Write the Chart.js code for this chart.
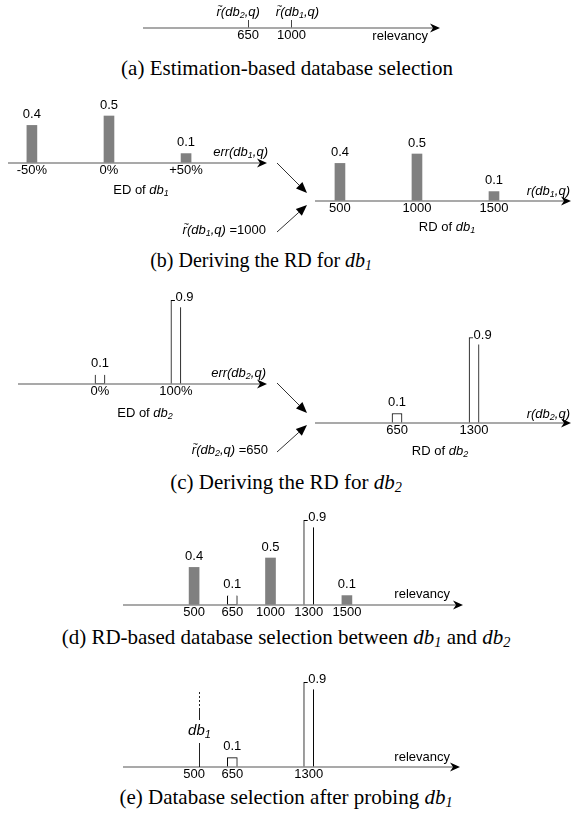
<!DOCTYPE html>
<html>
<head>
<meta charset="utf-8">
<title>RD-based database selection</title>
<script src="https://cdn.jsdelivr.net/npm/chart.js@4.4.1/dist/chart.umd.min.js"></script>
<style>
  body { margin: 0; background: #fff; }
  #page { position: relative; width: 573px; height: 818px; overflow: hidden; background: #fff; }
  #page canvas { position: absolute; left: 0; }
  .cap { position: absolute; width: 600px; text-align: center; white-space: nowrap;
         font-family: "Liberation Serif", "Times New Roman", serif; font-size: 21px; line-height: 24px; }
  .cap sub { font-size: 0.68em; line-height: 0; vertical-align: -0.2em; }
</style>
</head>
<body>
<div id="page">
  <div class="cap" style="left:-13px; top:56px">(a) Estimation-based database selection</div>
  <div class="cap" style="left:-39px; top:248px; font-size:20px">(b) Deriving the RD for <i>db<sub>1</sub></i></div>
  <div class="cap" style="left:-14px; top:470px">(c) Deriving the RD for <i>db<sub>2</sub></i></div>
  <div class="cap" style="left:-14px; top:625px">(d) RD-based database selection between <i>db<sub>1</sub></i> and <i>db<sub>2</sub></i></div>
  <div class="cap" style="left:-14px; top:785px">(e) Database selection after probing <i>db<sub>1</sub></i></div>
</div>
<script>
// (a) estimated relevancy of each database
const estDbs = ['2', '1'];
const estValues = [650, 1000];

// (b) db1: error distribution and the relevancy distribution derived from it
const errTicksDb1 = [-50, 0, 50];
const edProbDb1 = [0.4, 0.5, 0.1];
const rdTicksDb1 = [500, 1000, 1500];
const rdProbDb1 = [0.4, 0.5, 0.1];

// (c) db2
const errTicksDb2 = [0, 100];
const edProbDb2 = [0.1, 0.9];
const rdTicksDb2 = [650, 1300];
const rdProbDb2 = [0.1, 0.9];

// (d), (e) both RDs on one relevancy axis
const relevancyCats = ['500', '650', '1000', '1300', '1500'];
const selDb1 = [0.4, null, 0.5, null, 0.1];
const selDb2 = [null, 0.1, null, 0.9, null];
const probedDb1 = '500';

const W = 573;
const FONT = '"Liberation Sans", Arial, sans-serif';
const GRAY = '#808080';
const page = document.getElementById('page');

Chart.defaults.font.family = FONT;
Chart.defaults.font.size = 13;
Chart.defaults.color = '#000';

// rich text pieces: regular, italic, italic subscript, italic with tilde
const R = t => ({ t });
const I = t => ({ t, i: true });
const S = t => ({ t, i: true, sub: true });
const T = t => ({ t, i: true, tilde: true });

function drawRich(ctx, parts, x, y, align, size) {
  size = size || 13;
  const font = p => (p.i ? 'italic ' : '') + (p.sub ? Math.round(size * 0.72) : size) + 'px ' + FONT;
  let total = 0;
  parts.forEach(p => { ctx.font = font(p); p.w = ctx.measureText(p.t).width; total += p.w; });
  let cx = align === 'right' ? x - total : align === 'center' ? x - total / 2 : x;
  ctx.fillStyle = '#000';
  ctx.textBaseline = 'middle';
  parts.forEach(p => {
    ctx.font = font(p);
    ctx.textAlign = 'left';
    ctx.fillText(p.t, cx, p.sub ? y + size * 0.28 : y);
    if (p.tilde) {
      ctx.font = Math.round(size * 0.7) + 'px ' + FONT;
      ctx.textAlign = 'center';
      ctx.fillText('~', cx + p.w * 0.85, y - size * 0.42);
    }
    cx += p.w;
  });
}

function arrow(ctx, x1, y1, x2, y2) {
  const a = Math.atan2(y2 - y1, x2 - x1), L = 11, H = 4.5;
  const bx = x2 - L * Math.cos(a), by = y2 - L * Math.sin(a);
  ctx.strokeStyle = '#333';
  ctx.lineWidth = 1;
  ctx.beginPath(); ctx.moveTo(x1, y1); ctx.lineTo(bx, by); ctx.stroke();
  ctx.fillStyle = '#000';
  ctx.beginPath();
  ctx.moveTo(x2, y2);
  ctx.lineTo(bx + H * Math.sin(a), by - H * Math.cos(a));
  ctx.lineTo(bx - H * Math.sin(a), by + H * Math.cos(a));
  ctx.closePath(); ctx.fill();
}

const valueOf = raw => (raw !== null && typeof raw === 'object') ? raw.y : raw;

// axis arrow, bar labels, axis captions, probe line, connecting arrows
const diagramPlugin = {
  id: 'diagram',
  afterDatasetsDraw(chart, args, o) {
    const ctx = chart.ctx;
    const axisY = chart.chartArea.bottom;
    const xs = chart.scales.x;
    ctx.save();

    chart.data.datasets.forEach((ds, i) => {
      chart.getDatasetMeta(i).data.forEach((bar, j) => {
        const v = valueOf(ds.data[j]);
        if (v == null) return;
        const p = bar.getProps(['x', 'y', 'width'], true);
        const txt = v.toFixed(1);
        ctx.font = '13px ' + FONT;
        if (ds.labelBeside && v > 0.5) {
          // label sits on the top right corner of a tall open bar
          const left = p.x - p.width / 2;
          const tw = ctx.measureText(txt).width;
          ctx.fillStyle = '#fff';
          ctx.fillRect(left + 4, p.y - 11, tw + 2, 18);
          ctx.fillStyle = '#000';
          ctx.textAlign = 'left';
          ctx.textBaseline = 'alphabetic';
          ctx.fillText(txt, left + 4.5, p.y + 1);
        } else {
          ctx.fillStyle = '#000';
          ctx.textAlign = 'center';
          ctx.textBaseline = 'middle';
          ctx.fillText(txt, p.x, p.y - 11);
        }
      });
    });

    // axis line with arrow head
    const to = o.axisTo;
    ctx.strokeStyle = '#8c8c8c';
    ctx.lineWidth = 1.6;
    ctx.beginPath(); ctx.moveTo(o.axisFrom, axisY); ctx.lineTo(to - 5, axisY); ctx.stroke();
    ctx.fillStyle = '#000';
    ctx.beginPath();
    ctx.moveTo(to, axisY); ctx.lineTo(to - 10, axisY - 4.5);
    ctx.lineTo(to - 7, axisY); ctx.lineTo(to - 10, axisY + 4.5);
    ctx.closePath(); ctx.fill();

    if (o.probe) {
      const px = Math.round(xs.getPixelForValue(chart.data.labels.indexOf(o.probe))) + 5.5;
      ctx.strokeStyle = '#222';
      ctx.lineWidth = 1;
      ctx.beginPath();
      ctx.moveTo(px, axisY); ctx.lineTo(px, axisY - 24);
      ctx.moveTo(px, axisY - 47); ctx.lineTo(px, axisY - 57);
      ctx.stroke();
      ctx.setLineDash([2, 2]);
      ctx.beginPath(); ctx.moveTo(px, axisY - 57); ctx.lineTo(px, axisY - 77); ctx.stroke();
      ctx.setLineDash([]);
      drawRich(ctx, [I('db'), S('1')], px, axisY - 36, 'center', 15);
    }

    (o.texts || []).forEach(t => {
      const x = (t.value !== undefined ? xs.getPixelForValue(t.value) : t.x) + (t.dx || 0);
      drawRich(ctx, t.parts, x, axisY + t.dy, t.align, t.size);
    });
    (o.arrows || []).forEach(a => arrow(ctx, a[0], axisY + a[1], a[2], axisY + a[3]));
    ctx.restore();
  }
};

function makePanel(p) {
  const padTop = p.padTop || 16;
  const canvas = document.createElement('canvas');
  canvas.width = W;
  canvas.height = padTop + p.plotH + 20 + p.padBottom;
  canvas.style.top = (p.axisY - p.plotH - padTop) + 'px';
  page.appendChild(canvas);
  const x = Object.assign({
    offset: false,
    grid: { display: false, drawTicks: false, offset: false },
    border: { display: false },
    ticks: {
      padding: 0, autoSkip: false, maxRotation: 0, color: '#000',
      callback: function (v, i) { return p.fmt ? p.fmt.call(this, v, i) : this.getLabelForValue(v); }
    },
    afterFit: s => { s.height = 20; }
  }, p.x);
  if (p.ticksAt) x.afterBuildTicks = s => { s.ticks = p.ticksAt.map(v => ({ value: v })); };
  return new Chart(canvas.getContext('2d'), {
    type: 'bar',
    data: { labels: p.labels, datasets: p.datasets },
    options: {
      responsive: false,
      animation: false,
      events: [],
      layout: { padding: { top: padTop, bottom: p.padBottom, left: p.left, right: W - p.right } },
      plugins: { legend: { display: false }, tooltip: { enabled: false }, diagram: p.diagram },
      scales: { x: x, y: { display: false, min: 0, max: 1 } }
    },
    plugins: [diagramPlugin]
  });
}

const points = (xs, ys) => xs ? xs.map((x, i) => ({ x: x, y: ys[i] })) : ys;

function solidBars(xs, ys) {
  return { data: points(xs, ys), backgroundColor: GRAY, borderWidth: 0,
           barThickness: 10, maxBarThickness: 10, grouped: false };
}
function openBars(xs, ys, openTop) {
  return { data: points(xs, ys), backgroundColor: '#fff', borderColor: '#000', borderWidth: 1,
           borderSkipped: c => (openTop && valueOf(c.raw) < 0.5) ? 'top' : 'bottom',
           barThickness: 10, maxBarThickness: 10, grouped: false, labelBeside: true };
}

const relText = (r, db) => (r === 'est' ? [T('r'), I('(db')] : [I(r + '(db')]).concat([S(db), I(',q)')]);
const pct = v => (v > 0 ? '+' : '') + v + '%';

// (a)
makePanel({
  axisY: 28, plotH: 8, padTop: 20, padBottom: 10, left: 143, right: 440,
  x: { type: 'linear', min: -200, max: 2200,
       grid: { display: true, drawTicks: false, offset: false, color: '#444', lineWidth: 1 } },
  ticksAt: estValues, fmt: v => String(v),
  datasets: [],
  diagram: {
    axisFrom: 143, axisTo: 440,
    texts: estValues.map((v, i) => ({ parts: relText('est', estDbs[i]), value: v, dx: i === 0 ? -10 : 6,
                                      dy: -16, align: 'center' }))
      .concat([{ parts: [R('relevancy')], x: 428, dy: 8, align: 'right' }])
  }
});

// (b) left: ED of db1
makePanel({
  axisY: 163, plotH: 94, padBottom: 80, left: 8, right: 267,
  x: { type: 'linear', min: -65.5, max: 102.5 },
  ticksAt: errTicksDb1, fmt: v => pct(v),
  datasets: [solidBars(errTicksDb1, edProbDb1)],
  diagram: {
    axisFrom: 8, axisTo: 267,
    texts: [
      { parts: relText('err', '1'), x: 268, dy: -11, align: 'right' },
      { parts: [R('ED of '), I('db'), S('1')], x: 141, dy: 27, align: 'center' },
      { parts: relText('est', '1').concat([R(' =' + estValues[estDbs.indexOf('1')])]), x: 266, dy: 67, align: 'right' }
    ],
    arrows: [[277, 0, 307, 30], [277, 69, 307, 42]]
  }
});

// (b) right: RD of db1
makePanel({
  axisY: 201, plotH: 94, padBottom: 20, left: 315, right: 571,
  x: { type: 'linear', min: 338, max: 2000 },
  ticksAt: rdTicksDb1, fmt: v => String(v),
  datasets: [solidBars(rdTicksDb1, rdProbDb1)],
  diagram: {
    axisFrom: 315, axisTo: 571,
    texts: [
      { parts: relText('r', '1'), x: 570, dy: -10, align: 'right' },
      { parts: [R('RD of '), I('db'), S('1')], x: 447, dy: 26, align: 'center' }
    ]
  }
});

// (c) left: ED of db2
makePanel({
  axisY: 384, plotH: 93, padBottom: 80, left: 18, right: 267,
  x: { type: 'linear', min: -108, max: 220 },
  ticksAt: errTicksDb2, fmt: v => v + '%',
  datasets: [openBars(errTicksDb2, edProbDb2, true)],
  diagram: {
    axisFrom: 18, axisTo: 267,
    texts: [
      { parts: relText('err', '2'), x: 266, dy: -11, align: 'right' },
      { parts: [R('ED of '), I('db'), S('2')], x: 145, dy: 29, align: 'center' },
      { parts: relText('est', '2').concat([R(' =' + estValues[estDbs.indexOf('2')])]), x: 268, dy: 66, align: 'right' }
    ],
    arrows: [[277, -1, 307, 29], [277, 68, 307, 41]]
  }
});

// (c) right: RD of db2
makePanel({
  axisY: 423, plotH: 95, padBottom: 20, left: 315, right: 571,
  x: { type: 'linear', min: -42, max: 2118 },
  ticksAt: rdTicksDb2, fmt: v => String(v),
  datasets: [openBars(rdTicksDb2, rdProbDb2, false)],
  diagram: {
    axisFrom: 315, axisTo: 571,
    texts: [
      { parts: relText('r', '2'), x: 570, dy: -9, align: 'right' },
      { parts: [R('RD of '), I('db'), S('2')], x: 440, dy: 28, align: 'center' }
    ]
  }
});

// (d) both RDs together
makePanel({
  axisY: 605, plotH: 94, padBottom: 4, left: 175, right: 366,
  labels: relevancyCats,
  x: { type: 'category', offset: true },
  datasets: [solidBars(null, selDb1), openBars(null, selDb2, true)],
  diagram: {
    axisFrom: 123, axisTo: 463,
    texts: [{ parts: [R('relevancy')], x: 450, dy: -11, align: 'right' }]
  }
});

// (e) after probing db1
makePanel({
  axisY: 767, plotH: 94, padBottom: 4, left: 175, right: 366,
  labels: relevancyCats,
  x: { type: 'category', offset: true },
  fmt: function (v, i) {
    const c = relevancyCats[i];
    return (selDb2[i] != null || c === probedDb1) ? c : '';
  },
  datasets: [openBars(null, selDb2, false)],
  diagram: {
    axisFrom: 123, axisTo: 460,
    probe: probedDb1,
    texts: [{ parts: [R('relevancy')], x: 450, dy: -10, align: 'right' }]
  }
});
</script>
</body>
</html>
